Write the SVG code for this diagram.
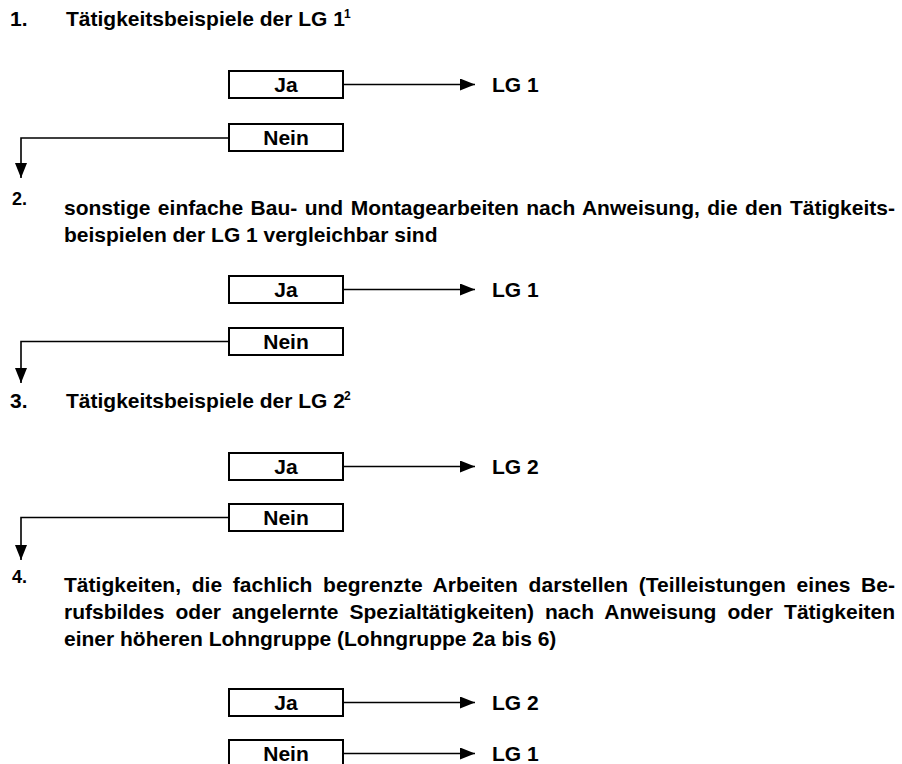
<svg xmlns="http://www.w3.org/2000/svg" width="902" height="764" viewBox="0 0 902 764">
<style>
text{font-family:"Liberation Sans",Arial,sans-serif;font-weight:bold;fill:#000}
.t{font-size:21px}
.n{font-size:18px}
.s{font-size:12px}
.box{fill:#fff;stroke:#000;stroke-width:2}
.bl{font-size:21px;text-anchor:middle}
.c{fill:none;stroke:#000;stroke-width:1.6}
</style>
<defs>
<marker id="ah" viewBox="0 0 15 12" refX="15" refY="6" markerWidth="15" markerHeight="12" markerUnits="userSpaceOnUse" orient="auto"><path d="M0,0 L15,6 L0,12 Z" fill="#000"/></marker>
</defs>
<rect width="902" height="764" fill="#fff"/>
<g id="connectors">
<path class="c" d="M343,84.5 H475" marker-end="url(#ah)"/>
<path class="c" d="M229,138 H21 V178" marker-end="url(#ah)"/>
<path class="c" d="M343,289.5 H475" marker-end="url(#ah)"/>
<path class="c" d="M229,341.5 H21 V383" marker-end="url(#ah)"/>
<path class="c" d="M343,466.5 H475" marker-end="url(#ah)"/>
<path class="c" d="M229,517.5 H21 V560" marker-end="url(#ah)"/>
<path class="c" d="M343,702.5 H475" marker-end="url(#ah)"/>
<path class="c" d="M343,753.5 H475" marker-end="url(#ah)"/>
</g>
<g id="q1">
<text class="t" x="10" y="26">1.</text>
<text class="t" x="66" y="26">Tätigkeitsbeispiele der LG 1</text>
<text class="s" x="344" y="18">1</text>
</g>
<g id="ja1"><rect class="box" x="229" y="71" width="114" height="27"/><text class="bl" x="286" y="92">Ja</text></g>
<g id="lg-ja1"><text class="t" x="492" y="92">LG 1</text></g>
<g id="nein1"><rect class="box" x="229" y="124" width="114" height="27"/><text class="bl" x="286" y="145">Nein</text></g>
<g id="q2">
<text class="n" x="12" y="205">2.</text>
<text class="t" x="64" y="215" word-spacing="1.6" textLength="831" lengthAdjust="spacing">sonstige einfache Bau- und Montagearbeiten nach Anweisung, die den Tätigkeits-</text>
<text class="t" x="64" y="242">beispielen der LG 1 vergleichbar sind</text>
</g>
<g id="ja2"><rect class="box" x="229" y="276" width="114" height="27"/><text class="bl" x="286" y="297">Ja</text></g>
<g id="lg-ja2"><text class="t" x="492" y="297">LG 1</text></g>
<g id="nein2"><rect class="box" x="229" y="328" width="114" height="27"/><text class="bl" x="286" y="349">Nein</text></g>
<g id="q3">
<text class="t" x="10" y="408">3.</text>
<text class="t" x="66" y="408">Tätigkeitsbeispiele der LG 2</text>
<text class="s" x="344" y="400">2</text>
</g>
<g id="ja3"><rect class="box" x="229" y="453" width="114" height="27"/><text class="bl" x="286" y="474">Ja</text></g>
<g id="lg-ja3"><text class="t" x="492" y="474">LG 2</text></g>
<g id="nein3"><rect class="box" x="229" y="504" width="114" height="27"/><text class="bl" x="286" y="525">Nein</text></g>
<g id="q4">
<text class="n" x="12" y="583">4.</text>
<text class="t" x="64" y="592" word-spacing="4.8" textLength="831" lengthAdjust="spacing">Tätigkeiten, die fachlich begrenzte Arbeiten darstellen (Teilleistungen eines Be-</text>
<text class="t" x="64" y="619" word-spacing="5.2" textLength="831" lengthAdjust="spacing">rufsbildes oder angelernte Spezialtätigkeiten) nach Anweisung oder Tätigkeiten</text>
<text class="t" x="64" y="646">einer höheren Lohngruppe (Lohngruppe 2a bis 6)</text>
</g>
<g id="ja4"><rect class="box" x="229" y="689" width="114" height="27"/><text class="bl" x="286" y="710">Ja</text></g>
<g id="lg-ja4"><text class="t" x="492" y="710">LG 2</text></g>
<g id="nein4"><rect class="box" x="229" y="740" width="114" height="27"/><text class="bl" x="286" y="761">Nein</text></g>
<g id="lg-nein4"><text class="t" x="492" y="761">LG 1</text></g>
</svg>
